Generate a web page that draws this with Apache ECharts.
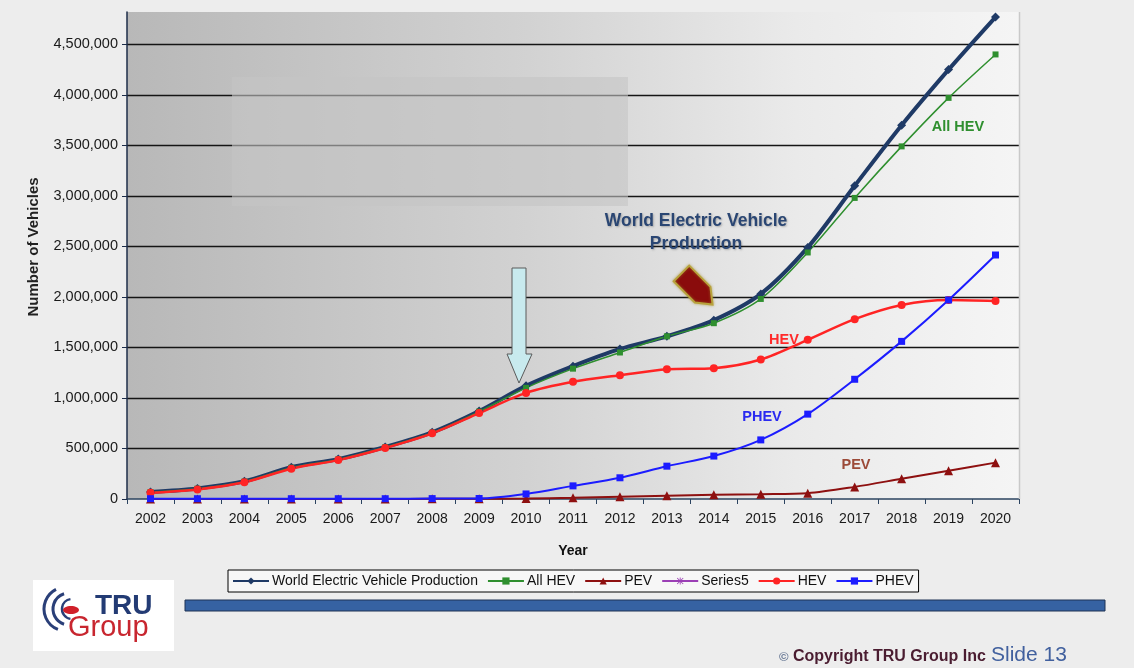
<!DOCTYPE html>
<html>
<head>
<meta charset="utf-8">
<title>World Electric Vehicle Production</title>
<script src="https://cdn.jsdelivr.net/npm/echarts@6/dist/echarts.min.js"></script>
<style>
  html, body { margin: 0; padding: 0; background: #ededed; }
  #chart { width: 1134px; height: 668px; }
</style>
</head>
<body>
<div id="chart"></div>
<script>
// Production years
const years = ['2002','2003','2004','2005','2006','2007','2008','2009','2010','2011',
               '2012','2013','2014','2015','2016','2017','2018','2019','2020'];

// Vehicles produced per year, by type
const worldEV = [70000, 105000, 175000, 315000, 395000, 515000, 660000, 870000, 1120000, 1315000,
                 1485000, 1610000, 1770000, 2030000, 2490000, 3100000, 3700000, 4250000, 4770000];
const allHEV  = [68000, 102000, 172000, 310000, 392000, 512000, 656000, 865000, 1100000, 1290000,
                 1450000, 1610000, 1740000, 1980000, 2440000, 2980000, 3490000, 3970000, 4400000];
const pev     = [0, 0, 0, 0, 0, 0, 2000, 3000, 5000, 12000,
                 22000, 32000, 42000, 48000, 58000, 120000, 200000, 280000, 360000];
const series5 = [];
const hev     = [62000, 95000, 165000, 300000, 385000, 505000, 650000, 850000, 1050000, 1160000,
                 1225000, 1285000, 1295000, 1380000, 1575000, 1780000, 1920000, 1970000, 1960000];
const phev    = [3000, 3000, 3000, 3000, 3000, 3000, 4000, 5000, 50000, 130000,
                 210000, 325000, 425000, 585000, 840000, 1185000, 1560000, 1970000, 2415000];

// Value axis
const yMin = 0;
const yMax = 4820000;
const yStep = 500000;

const FONT = 'Liberation Sans, Arial, sans-serif';
const ASTERISK = 'path://M4.4,0H5.6V10H4.4Z M0,4.4H10V5.6H0Z M1.2,0.4L9.6,8.8L8.8,9.6L0.4,1.2Z M8.8,0.4L9.6,1.2L1.2,9.6L0.4,8.8Z';

const chart = echarts.init(document.getElementById('chart'), null, { renderer: 'canvas' });

function lineSeries(name, data, color, width, symbol, size) {
  return {
    name: name,
    type: 'line',
    data: data,
    smooth: 0.3,
    symbol: symbol,
    symbolSize: size,
    showAllSymbol: true,
    lineStyle: { color: color, width: width },
    itemStyle: { color: color },
    emphasis: { disabled: true },
    animation: false
  };
}

const option = {
  backgroundColor: '#ededed',
  animation: false,
  grid: { left: 127, right: 115, top: 12, bottom: 169, containLabel: false,
          show: true, borderWidth: 0,
          backgroundColor: new echarts.graphic.LinearGradient(0, 0, 1, 0, [
            { offset: 0, color: '#b8b8b8' },
            { offset: 0.45, color: '#d2d2d2' },
            { offset: 0.75, color: '#eaeaea' },
            { offset: 1, color: '#f5f5f5' }
          ]) },
  xAxis: {
    type: 'category',
    data: years,
    boundaryGap: true,
    name: 'Year',
    nameLocation: 'middle',
    nameGap: 45,
    nameTextStyle: { fontFamily: FONT, fontSize: 14, fontWeight: 'bold', color: '#111' },
    axisLine: { lineStyle: { color: '#2c4460', width: 1.5 } },
    axisTick: { show: true, alignWithLabel: false, length: 5, lineStyle: { color: '#2c4460' } },
    axisLabel: { fontFamily: FONT, fontSize: 14, color: '#1a1a1a', margin: 13, interval: 0 },
    splitLine: { show: false }
  },
  yAxis: {
    type: 'value',
    min: yMin,
    max: yMax,
    interval: yStep,
    axisLine: { show: true, lineStyle: { color: '#1c2c48', width: 1.5 } },
    axisTick: { show: true, length: 5, lineStyle: { color: '#1c2c48' } },
    axisLabel: {
      fontFamily: FONT, fontSize: 14.5, color: '#1a1a1a', margin: 9,
      showMaxLabel: false,
      formatter: v => v.toLocaleString('en-US')
    },
    splitLine: { show: true, showMinLine: false, showMaxLine: false,
                 lineStyle: { color: '#151515', width: 1.3 } }
  },
  legend: {
    left: 228, top: 570,
    orient: 'horizontal',
    backgroundColor: '#f7f7f7',
    borderColor: '#000',
    borderWidth: 1,
    borderRadius: 0,
    padding: [4, 5, 4, 4],
    itemGap: 9,
    itemWidth: 36,
    itemHeight: 9,
    textStyle: { fontFamily: FONT, fontSize: 14, color: '#111', padding: [0, 0, 0, -2] },
    data: ['World Electric Vehicle Production', 'All HEV', 'PEV', 'Series5', 'HEV', 'PHEV']
  },
  series: [
    lineSeries('World Electric Vehicle Production', worldEV, '#1f3a66', 4, 'diamond', 9),
    lineSeries('All HEV', allHEV, '#2f8f2f', 1.5, 'rect', 6),
    lineSeries('PEV', pev, '#8e1010', 2, 'triangle', 9),
    lineSeries('Series5', series5, '#9b3fb5', 1.5, ASTERISK, 9),
    lineSeries('HEV', hev, '#ff2424', 2.5, 'circle', 8),
    lineSeries('PHEV', phev, '#1c1cff', 2, 'rect', 7)
  ],
  graphic: [
    // faded placeholder block over the upper-left plot
    { type: 'rect', z: 1, silent: true,
      shape: { x: 232, y: 77, width: 396, height: 129 },
      style: { fill: 'rgba(196,196,196,0.6)' } },
    // right edge of plot area
    { type: 'line', z: 1, silent: true,
      shape: { x1: 1019.5, y1: 12, x2: 1019.5, y2: 499 },
      style: { stroke: '#c9c9c9', lineWidth: 1.5 } },
    // y axis title
    { type: 'text', z: 5, silent: true,
      x: 34, y: 247, rotation: Math.PI / 2,
      style: { text: 'Number of Vehicles', fontFamily: FONT, fontSize: 15, fontWeight: 'bold',
               fill: '#222', textAlign: 'center', textVerticalAlign: 'middle' } },
    // title annotation
    { type: 'text', z: 5, silent: true,
      x: 696, y: 233,
      style: { text: 'World Electric Vehicle\nProduction', fontFamily: FONT, fontSize: 17.5,
               fontWeight: 'bold', fill: '#2a4673', textAlign: 'center', textVerticalAlign: 'middle',
               lineHeight: 23, textShadowColor: 'rgba(0,0,0,0.25)', textShadowBlur: 2,
               textShadowOffsetX: 1, textShadowOffsetY: 1 } },
    // series call-outs
    { type: 'text', z: 5, silent: true, x: 958, y: 127,
      style: { text: 'All HEV', fontFamily: FONT, fontSize: 14.5, fontWeight: 'bold', fill: '#2f8f2f',
               textAlign: 'center', textVerticalAlign: 'middle' } },
    { type: 'text', z: 5, silent: true, x: 784, y: 340,
      style: { text: 'HEV', fontFamily: FONT, fontSize: 14.5, fontWeight: 'bold', fill: '#ff2a2a',
               textAlign: 'center', textVerticalAlign: 'middle' } },
    { type: 'text', z: 5, silent: true, x: 762, y: 417,
      style: { text: 'PHEV', fontFamily: FONT, fontSize: 14.5, fontWeight: 'bold', fill: '#2a2af0',
               textAlign: 'center', textVerticalAlign: 'middle' } },
    { type: 'text', z: 5, silent: true, x: 856, y: 465,
      style: { text: 'PEV', fontFamily: FONT, fontSize: 14.5, fontWeight: 'bold', fill: '#9c4a38',
               textAlign: 'center', textVerticalAlign: 'middle' } },
    // light blue pointer arrow at 2010
    { type: 'polygon', z: 6, silent: true,
      shape: { points: [[512, 268], [526, 268], [526, 354], [532, 354], [519, 383], [507, 354], [512, 354]] },
      style: { fill: '#c8eaee', stroke: '#5a5a5a', lineWidth: 1 } },
    // dark red arrow pointing toward the total curve
    { type: 'polygon', z: 6, silent: true,
      x: 697, y: 289, rotation: -Math.PI / 4,
      shape: { points: [[-22, -11], [8, -11], [22, 0], [8, 11], [-22, 11]] },
      style: { fill: '#8a0c0c', stroke: '#b8a23c', lineWidth: 2, shadowColor: 'rgba(160,140,40,0.6)', shadowBlur: 3 } },
    // divider bar
    { type: 'rect', z: 2, silent: true,
      shape: { x: 185, y: 600, width: 920, height: 11 },
      style: { fill: '#3662a2', stroke: '#1f3355', lineWidth: 1 } },
    // company logo
    { type: 'group', z: 3, silent: true, children: [
      { type: 'rect', shape: { x: 33, y: 580, width: 141, height: 71 }, style: { fill: '#ffffff' } },
      { type: 'arc', shape: { cx: 66, cy: 609, r: 22, startAngle: Math.PI * 0.62, endAngle: Math.PI * 1.35 },
        style: { stroke: '#2a3f78', lineWidth: 3, fill: null } },
      { type: 'arc', shape: { cx: 69, cy: 609, r: 16, startAngle: Math.PI * 0.6, endAngle: Math.PI * 1.4 },
        style: { stroke: '#2a3f78', lineWidth: 3, fill: null } },
      { type: 'arc', shape: { cx: 72, cy: 609, r: 10, startAngle: Math.PI * 0.55, endAngle: Math.PI * 1.45 },
        style: { stroke: '#2a3f78', lineWidth: 2.5, fill: null } },
      { type: 'ellipse', shape: { cx: 71, cy: 610, rx: 8, ry: 4 }, style: { fill: '#d0202a' } },
      { type: 'text', x: 95, y: 606,
        style: { text: 'TRU', fontFamily: FONT, fontSize: 28, fontWeight: 'bold', fill: '#233b74',
                 textVerticalAlign: 'middle' } },
      { type: 'text', x: 68, y: 628,
        style: { text: 'Group', fontFamily: FONT, fontSize: 29, fill: '#c8262f',
                 textVerticalAlign: 'middle' } }
    ] },
    // footer
    { type: 'text', z: 3, silent: true, x: 779, y: 657,
      style: { text: '\u00A9', fontFamily: FONT, fontSize: 13, fontWeight: 'bold', fill: '#6a7a96',
               textVerticalAlign: 'middle' } },
    { type: 'text', z: 3, silent: true, x: 793, y: 657,
      style: { text: 'Copyright TRU Group Inc', fontFamily: FONT, fontSize: 16, fontWeight: 'bold',
               fill: '#4a1c30', textVerticalAlign: 'middle' } },
    { type: 'text', z: 3, silent: true, x: 991, y: 655,
      style: { text: 'Slide 13', fontFamily: FONT, fontSize: 21, fill: '#41609e',
               textVerticalAlign: 'middle' } }
  ]
};

chart.setOption(option);
</script>
</body>
</html>
